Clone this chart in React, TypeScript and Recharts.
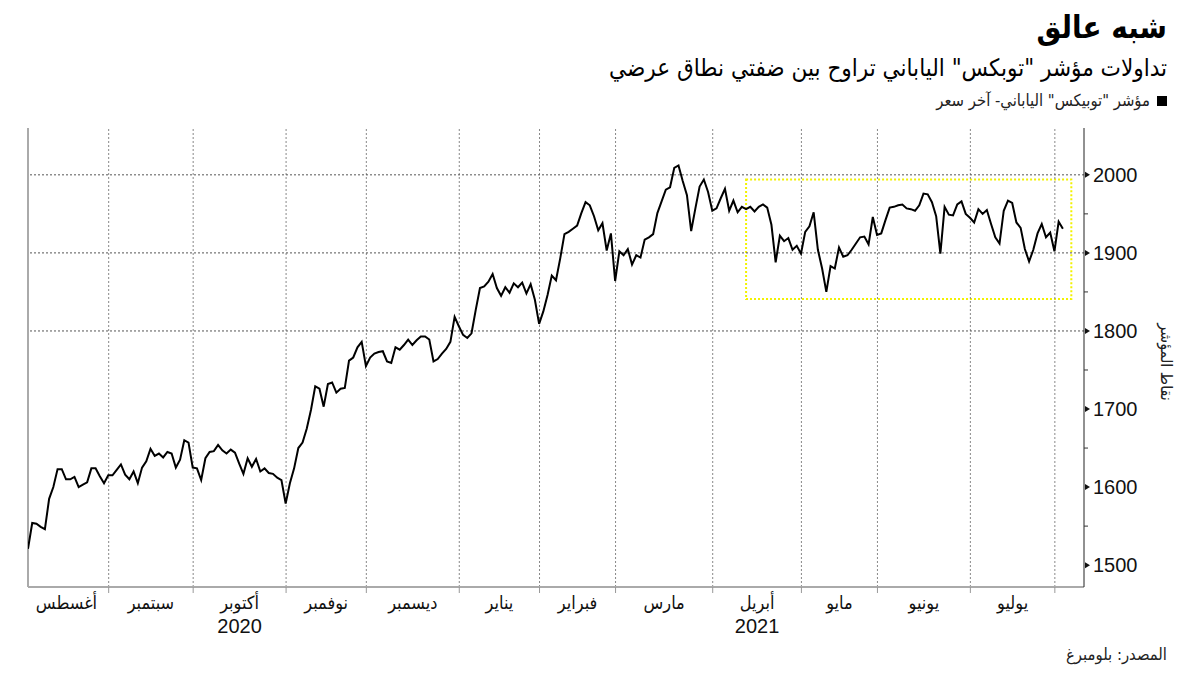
import React from 'react';
import { LineChart, Line, XAxis, YAxis, ReferenceLine, ReferenceArea } from 'recharts';

const monthNames = ['أغسطس', 'سبتمبر', 'أكتوبر', 'نوفمبر', 'ديسمبر', 'يناير', 'فبراير', 'مارس', 'أبريل', 'مايو', 'يونيو', 'يوليو'];
const yearLabels = ['', '', '2020', '', '', '', '', '', '2021', '', '', ''];

// TOPIX daily close, one array per month (trading days)
const aug20 = [1521, 1554, 1553, 1549, 1546, 1585, 1600, 1623, 1623, 1610, 1610, 1613, 1600, 1603, 1606, 1624, 1624, 1614, 1605, 1615];
const sep20 = [1615, 1622, 1629, 1616, 1610, 1620, 1605, 1625, 1633, 1649, 1640, 1643, 1638, 1645, 1643, 1625, 1635, 1660, 1657, 1625];
const oct20 = [1624, 1609, 1637, 1645, 1646, 1654, 1647, 1643, 1648, 1644, 1630, 1617, 1637, 1626, 1636, 1620, 1624, 1618, 1617, 1612, 1609, 1579];
const nov20 = [1605, 1624, 1650, 1657, 1675, 1699, 1729, 1726, 1703, 1732, 1734, 1721, 1726, 1727, 1762, 1766, 1779, 1786, 1755];
const dec20 = [1766, 1771, 1773, 1774, 1761, 1759, 1779, 1776, 1782, 1789, 1782, 1788, 1793, 1793, 1789, 1761, 1764, 1771, 1777, 1786, 1818, 1806];
const jan21 = [1795, 1791, 1797, 1827, 1855, 1857, 1863, 1873, 1855, 1845, 1856, 1849, 1861, 1856, 1862, 1848, 1860, 1840, 1809];
const feb21 = [1825, 1846, 1871, 1865, 1893, 1924, 1927, 1931, 1935, 1951, 1965, 1961, 1947, 1929, 1938, 1903, 1925, 1864];
const mar21 = [1902, 1897, 1905, 1885, 1897, 1894, 1917, 1920, 1924, 1951, 1966, 1981, 1984, 2009, 2012, 1992, 1974, 1928, 1957, 1985, 1994, 1978, 1954];
const apr21 = [1957, 1970, 1982, 1954, 1967, 1952, 1959, 1956, 1959, 1953, 1959, 1962, 1958, 1936, 1888, 1922, 1915, 1919, 1904, 1909, 1899];
const may21 = [1927, 1934, 1952, 1904, 1880, 1850, 1883, 1880, 1907, 1895, 1897, 1904, 1912, 1920, 1921, 1911, 1946, 1923];
const jun21 = [1925, 1942, 1958, 1959, 1961, 1962, 1957, 1956, 1954, 1961, 1976, 1975, 1965, 1947, 1899, 1959, 1949, 1948, 1962, 1966, 1950, 1945];
const jul21 = [1939, 1956, 1950, 1955, 1937, 1920, 1912, 1954, 1967, 1964, 1939, 1932, 1905, 1889, 1904, 1925, 1937, 1920, 1926, 1902];
const aug21 = [1940, 1931];

const yTicks = [1500, 1550, 1600, 1650, 1700, 1750, 1800, 1850, 1900, 1950, 2000];
const gridValues = [1800, 1900, 2000];
const Y_DOMAIN: [number, number] = [1472, 2060];
const X_DOMAIN: [number, number] = [0, 250];
// highlighted sideways range (trading-day index / index points)
const rangeBox = { x1: 170, x2: 247, y1: 1841, y2: 1994 };

const monthSeries = [aug20, sep20, oct20, nov20, dec20, jan21, feb21, mar21, apr21, may21, jun21, jul21, aug21];
const topix = monthSeries.flat();
const data = topix.map((v, i) => ({ i, v }));

const monthStarts: number[] = [];
let acc = 0;
for (const m of monthSeries) { monthStarts.push(acc); acc += m.length; }
const SHIFT = 0.9;
const boundaries = monthStarts.slice(1).map((s) => s - SHIFT);
const labelCenters = monthNames.map((_, k) => ((k === 0 ? -SHIFT : boundaries[k - 1]) + boundaries[k]) / 2);
const xTicks = [...boundaries, ...labelCenters].sort((a, b) => a - b);

const AR = "'DejaVu Sans Condensed', 'DejaVu Sans', sans-serif";
const NUM = "'Liberation Sans', Arial, sans-serif";

const XTick = (props: any) => {
  const { x, y, payload } = props;
  const v = payload.value;
  if (boundaries.indexOf(v) >= 0) {
    return <line x1={x} x2={x} y1={y} y2={y + 6} stroke="#999" strokeWidth={1} />;
  }
  const k = labelCenters.indexOf(v);
  return (
    <g>
      <text x={x} y={y + 22} textAnchor="middle" fontSize={18} fill="#111" fontFamily={AR}>{monthNames[k]}</text>
      {yearLabels[k] ? (
        <text x={x} y={y + 46} textAnchor="middle" fontSize={20} fill="#111" fontFamily={NUM}>{yearLabels[k]}</text>
      ) : null}
    </g>
  );
};

const YTick = (props: any) => {
  const { x, y, payload } = props;
  const v = payload.value;
  if (v % 100 === 0) {
    return (
      <g>
        <polygon points={`${x + 1},${y - 3} ${x + 6},${y} ${x + 1},${y + 3}`} fill="#111" />
        <text x={x + 9} y={y} dominantBaseline="central" fontSize={20} fill="#111" fontFamily={NUM}>{v}</text>
      </g>
    );
  }
  return <line x1={x} x2={x + 4} y1={y} y2={y} stroke="#333" strokeWidth={1} />;
};

export default function App() {
  return (
    <div style={{ position: 'absolute', left: 0, top: 0, width: 1200, height: 675, background: '#fff', overflow: 'hidden' }}>
      <div dir="rtl" style={{ position: 'absolute', right: 33, top: 9, fontFamily: AR, fontWeight: 'bold', fontSize: 31, color: '#000', whiteSpace: 'nowrap' }}>شبه عالق</div>
      <div dir="rtl" style={{ position: 'absolute', right: 33, top: 54, fontFamily: AR, fontSize: 24, color: '#000', whiteSpace: 'nowrap' }}>تداولات مؤشر "توبكس" الياباني تراوح بين ضفتي نطاق عرضي</div>
      <div dir="rtl" style={{ position: 'absolute', right: 33, top: 91, fontFamily: AR, fontSize: 16.5, color: '#222', whiteSpace: 'nowrap', display: 'flex', alignItems: 'center' }}>
        <span style={{ display: 'inline-block', width: 10, height: 10, background: '#000', marginLeft: 7 }} />
        <span>مؤشر "توبيكس" الياباني- آخر سعر</span>
      </div>
      <LineChart width={1200} height={675} data={data} margin={{ top: 128, right: 0, bottom: 0, left: 28 }}>
        <XAxis
          dataKey="i"
          type="number"
          domain={X_DOMAIN}
          allowDataOverflow
          ticks={xTicks}
          interval={0}
          tick={<XTick />}
          tickLine={false}
          tickSize={0}
          tickMargin={0}
          height={88}
          axisLine={{ stroke: '#aaa', strokeWidth: 2 }}
        />
        <YAxis
          orientation="right"
          type="number"
          domain={Y_DOMAIN}
          allowDataOverflow
          ticks={yTicks}
          interval={0}
          width={116}
          tick={<YTick />}
          tickLine={false}
          tickSize={0}
          tickMargin={0}
          axisLine={{ stroke: '#222', strokeWidth: 1 }}
        />
        {boundaries.map((b) => (
          <ReferenceLine key={'b' + b} x={b} stroke="#888" strokeDasharray="2 2" strokeWidth={1} />
        ))}
        {gridValues.map((g) => (
          <ReferenceLine key={'g' + g} y={g} stroke="#555" strokeDasharray="2 2" strokeWidth={1} />
        ))}
        <ReferenceLine x={0} stroke="#aaa" strokeWidth={2} />
        <ReferenceArea x1={rangeBox.x1} x2={rangeBox.x2} y1={rangeBox.y1} y2={rangeBox.y2} fill="none" fillOpacity={0} stroke="#f2f200" strokeWidth={2} strokeDasharray="2 2" />
        <Line type="linear" dataKey="v" stroke="#000" strokeWidth={2} dot={false} isAnimationActive={false} />
      </LineChart>
      <div style={{ position: 'absolute', left: 1166, top: 362, transform: 'translate(-50%, -50%) rotate(90deg)', fontFamily: AR, fontSize: 16, color: '#222', whiteSpace: 'nowrap' }} dir="rtl">نقاط المؤشر</div>
      <div dir="rtl" style={{ position: 'absolute', right: 33, top: 645, fontFamily: AR, fontSize: 16.5, color: '#222', whiteSpace: 'nowrap' }}>المصدر: بلومبرغ</div>
    </div>
  );
}
